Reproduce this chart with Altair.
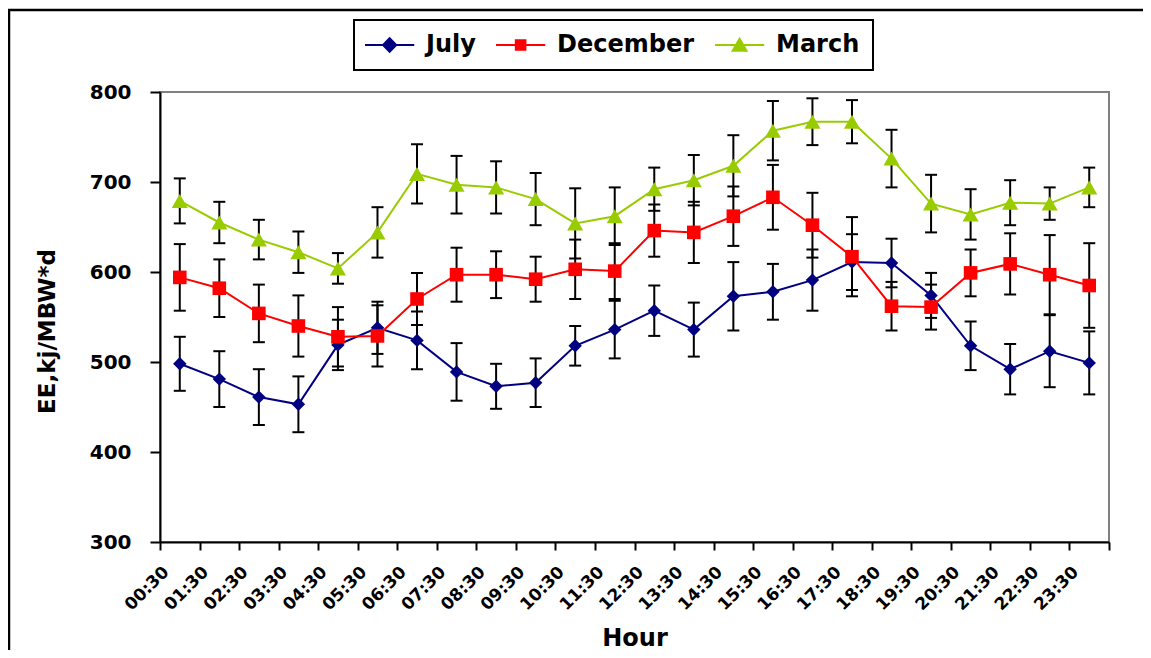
import altair as alt
import pandas as pd

hours = ["00:30", "01:30", "02:30", "03:30", "04:30", "05:30", "06:30", "07:30",
         "08:30", "09:30", "10:30", "11:30", "12:30", "13:30", "14:30", "15:30",
         "16:30", "17:30", "18:30", "19:30", "20:30", "21:30", "22:30", "23:30"]

july = [498, 481, 461, 453, 519, 538, 524, 489, 473, 477, 518, 536,
        557, 536, 573, 578, 591, 611, 610, 574, 518, 492, 512, 499]
july_err = [30, 31, 31, 31, 28, 29, 32, 32, 25, 27, 22, 32,
            28, 30, 38, 31, 34, 31, 27, 25, 27, 28, 40, 35]

december = [594, 582, 554, 540, 528, 529, 570, 597, 597, 592, 603, 601,
            646, 644, 662, 683, 652, 617, 562, 561, 599, 609, 597, 585]
december_err = [37, 32, 32, 34, 33, 34, 29, 30, 26, 25, 33, 31,
                29, 34, 33, 36, 36, 44, 27, 25, 26, 34, 44, 47]

march = [679, 655, 636, 622, 604, 644, 709, 697, 694, 681, 654, 662,
         692, 702, 718, 757, 767, 767, 726, 676, 664, 677, 676, 694]
march_err = [25, 23, 22, 23, 17, 28, 33, 32, 29, 29, 39, 32,
             24, 28, 34, 33, 26, 24, 32, 32, 28, 25, 18, 22]

series_names = ["July", "December", "March"]
series_colors = ["#000080", "#FF0000", "#99CC00"]
series_shapes = ["diamond", "square", "triangle-up"]
series_sizes = [180, 185, 260]
y_ticks = [300, 400, 500, 600, 700, 800]

# legend symbols: a line with the marker in its middle (path units: 1 = 6 px)
legend_paths = [
    "M-2.33,0L5.87,0M1.77,-1.15L2.87,0L1.77,1.15L0.67,0Z",
    "M-2.33,0L5.87,0M0.97,-0.8L2.57,-0.8L2.57,0.8L0.97,0.8Z",
    "M-2.33,0L5.87,0M1.77,-1.05L2.92,0.95L0.62,0.95Z",
]

rows = []
for name, vals, errs in zip(series_names, [july, december, march],
                            [july_err, december_err, march_err]):
    for h, v, e in zip(hours, vals, errs):
        rows.append({"hour": h, "series": name, "value": v, "err": e})
df = pd.DataFrame(rows)

FONT = "DejaVu Sans"

x_axis = alt.Axis(
    labelAngle=315, labelAlign="right", labelBaseline="middle",
    labelFont=FONT, labelFontSize=17, labelFontWeight="bold", labelColor="black",
    labelOffset=-14, labelPadding=19, labelOverlap=False,
    tickBand="extent", tickSize=8, tickWidth=2, tickColor="black",
    domainColor="black", domainWidth=2, grid=False,
    titleFont=FONT, titleFontSize=24, titleFontWeight="bold", titleColor="black",
    titleY=103, titleBaseline="alphabetic",
)
y_axis = alt.Axis(
    values=y_ticks, labelFont=FONT, labelFontSize=20, labelFontWeight="bold",
    labelColor="black", labelPadding=19, tickSize=10, tickWidth=2, tickColor="black",
    domainColor="black", domainWidth=2, grid=False,
    titleFont=FONT, titleFontSize=23, titleFontWeight="bold", titleColor="black",
    titleX=-113, titleY=239, titleAngle=270, titleAlign="center", titleBaseline="middle",
)
x_scale = alt.Scale(type="band", paddingInner=0, paddingOuter=0)
y_scale = alt.Scale(domain=[300, 800], nice=False, zero=False)


def X():
    return alt.X("hour:N", sort=hours, scale=x_scale, axis=x_axis, title="Hour")


def Y(field):
    return alt.Y(field, scale=y_scale, axis=y_axis, title="EE,kj/MBW*d")


base = alt.Chart(df).transform_calculate(
    low="datum.value - datum.err", high="datum.value + datum.err"
)

err_rule = base.mark_rule(color="black", strokeWidth=2).encode(
    x=X(), y=Y("low:Q"), y2="high:Q"
)
cap_top = base.mark_tick(color="black", size=12, thickness=2, opacity=1).encode(
    x=X(), y=Y("high:Q")
)
cap_bot = base.mark_tick(color="black", size=12, thickness=2, opacity=1).encode(
    x=X(), y=Y("low:Q")
)

layers = [err_rule, cap_top, cap_bot]
for name, col, shp, sz in zip(series_names, series_colors, series_shapes, series_sizes):
    sub = alt.Chart(df).transform_filter(alt.datum.series == name)
    layers.append(sub.mark_line(color=col, strokeWidth=2).encode(x=X(), y=Y("value:Q")))
    layers.append(sub.mark_point(shape=shp, filled=True, size=sz, color=col,
                                 opacity=1, strokeWidth=0).encode(x=X(), y=Y("value:Q")))

color_scale = alt.Scale(domain=series_names, range=series_colors)
shape_scale = alt.Scale(domain=series_names, range=legend_paths)
legend = alt.Legend(
    orient="none", legendX=194, legendY=-72, direction="horizontal", columns=3,
    title=None, labelFont=FONT, labelFontSize=24, labelFontWeight="bold",
    labelColor="black", labelOffset=35, symbolSize=144, symbolStrokeWidth=2,
    columnPadding=16, padding=13, strokeColor="black", symbolOpacity=1,
)
legend_layer = alt.Chart(df).transform_filter("false").mark_point(
    filled=True, opacity=1, strokeWidth=2, size=144
).encode(
    x=X(), y=Y("value:Q"),
    color=alt.Color("series:N", scale=color_scale, legend=legend),
    stroke=alt.Stroke("series:N", scale=color_scale, legend=legend),
    shape=alt.Shape("series:N", scale=shape_scale, legend=legend),
)
layers.append(legend_layer)

frame_df = pd.DataFrame({"k": [0]})
frame_left = alt.Chart(frame_df).mark_rule(color="black", strokeWidth=2.5).encode(
    x=alt.value(-151), y=alt.value(-82), y2=alt.value(620)
)
frame_top = alt.Chart(frame_df).mark_rule(color="black", strokeWidth=2.5).encode(
    x=alt.value(-152), x2=alt.value(1100), y=alt.value(-82)
)
layers += [frame_left, frame_top]

chart = alt.layer(*layers).properties(
    width=949, height=450,
    autosize=alt.AutoSizeParams(type="none"),
    padding={"left": 152, "top": 84, "right": 34, "bottom": 108},
).configure_view(stroke="#808080", strokeWidth=2).configure_legend(strokeWidth=2)

chart.save("out.html", embed_options={"renderer": "svg", "actions": False})
